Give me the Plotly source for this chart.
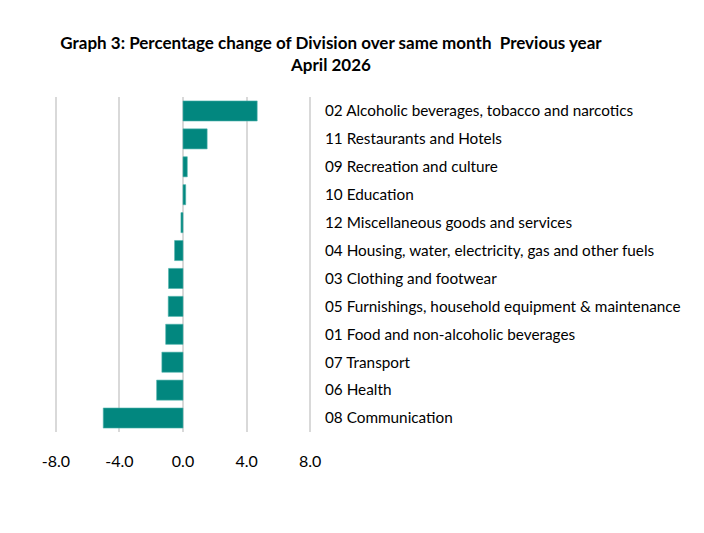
import plotly.graph_objects as go

FONT = "Lato, 'Open Sans', sans-serif"
BAR_COLOR = "#02877f"

# divisions, top to bottom as shown
divisions = [
    "02 Alcoholic beverages, tobacco and narcotics",
    "11 Restaurants and Hotels",
    "09 Recreation and culture",
    "10 Education",
    "12 Miscellaneous goods and services",
    "04 Housing, water, electricity, gas and other fuels",
    "03 Clothing and footwear",
    "05 Furnishings, household equipment & maintenance",
    "01 Food and non-alcoholic beverages",
    "07 Transport",
    "06 Health",
    "08 Communication",
]
pct_change = [4.67, 1.52, 0.27, 0.17, -0.13, -0.53, -0.91, -0.93, -1.09, -1.33, -1.66, -5.02]

x_ticks = [-8, -4, 0, 4, 8]
x_ticktext = ["-8.0", "-4.0", "0.0", "4.0", "8.0"]

fig = go.Figure(
    go.Bar(
        x=pct_change,
        y=divisions,
        orientation="h",
        marker=dict(color=BAR_COLOR, line=dict(color="#4fb3ad", width=0.6)),
        showlegend=False,
    )
)

# page body adds an 8px margin, so margins are offset by that
fig.update_layout(
    width=704,
    height=533,
    paper_bgcolor="white",
    plot_bgcolor="white",
    font=dict(family=FONT, color="#000000"),
    margin=dict(l=46, r=400, t=89, b=109),
    bargap=0.28,
    title=dict(
        text="<b>Graph 3: Percentage change of Division over same month&nbsp; Previous year<br>April 2026</b>",
        font=dict(family=FONT, size=17, color="#000000"),
        x=323 / 704,
        xanchor="center",
        y=1 - 41 / 533,
        yanchor="top",
        yref="container",
    ),
    xaxis=dict(
        # slightly padded so the gridlines at -8 and 8 are drawn
        range=[-8.12, 8.12],
        tickvals=x_ticks,
        ticktext=x_ticktext,
        showgrid=True,
        gridcolor="#d9d9d9",
        gridwidth=1.5,
        zeroline=False,
        showline=False,
        ticks="",
        ticklabelstandoff=18,
        tickfont=dict(family=FONT, size=16, color="#000000"),
    ),
    yaxis=dict(
        categoryorder="array",
        categoryarray=divisions,
        autorange="reversed",
        side="right",
        showgrid=False,
        zeroline=False,
        showline=False,
        ticks="",
        ticklabelstandoff=12,
        tickfont=dict(family=FONT, size=15.3, color="#000000"),
    ),
)

fig.write_html("out.html")
